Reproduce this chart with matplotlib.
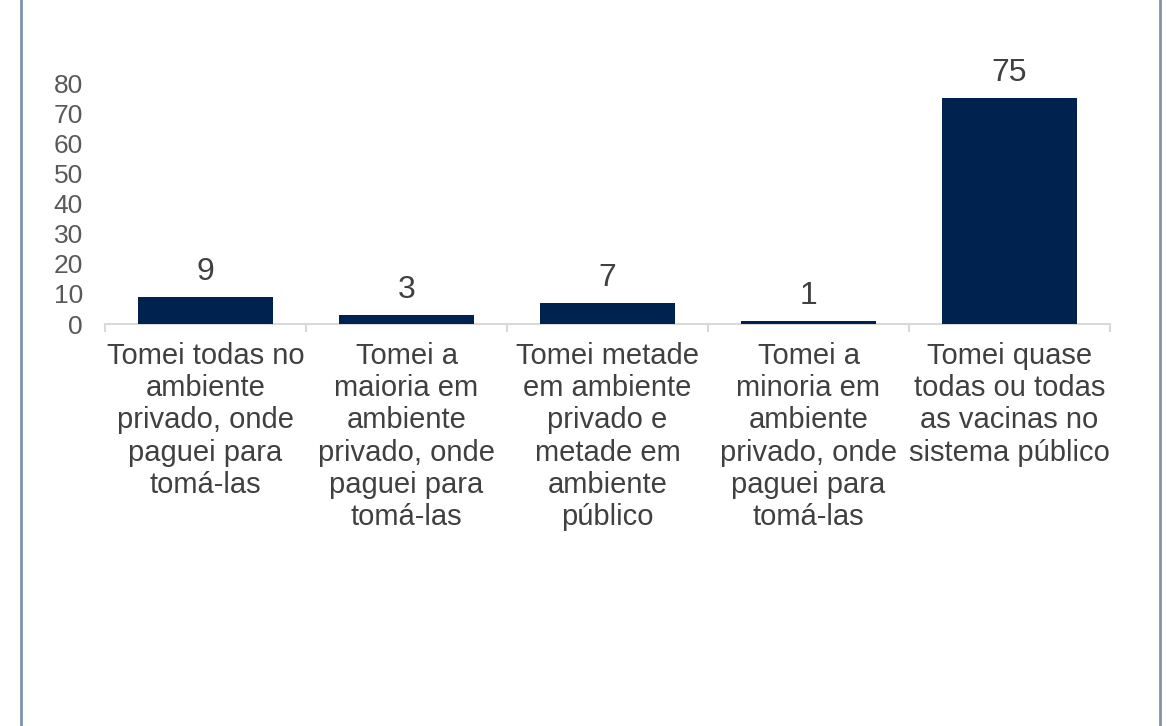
import matplotlib
matplotlib.use("Agg")
import matplotlib.pyplot as plt
from matplotlib.lines import Line2D

categories = [
    "Tomei todas no\nambiente\nprivado, onde\npaguei para\ntomá-las",
    "Tomei a\nmaioria em\nambiente\nprivado, onde\npaguei para\ntomá-las",
    "Tomei metade\nem ambiente\nprivado e\nmetade em\nambiente\npúblico",
    "Tomei a\nminoria em\nambiente\nprivado, onde\npaguei para\ntomá-las",
    "Tomei quase\ntodas ou todas\nas vacinas no\nsistema público",
]
values = [9, 3, 7, 1, 75]
yticks = [0, 10, 20, 30, 40, 50, 60, 70, 80]

plt.rcParams['font.family'] = ['Liberation Sans', 'DejaVu Sans']

fig = plt.figure(figsize=(11.66, 7.26), dpi=100)
ax = fig.add_axes([105/1166, 1-324/726, (1110-105)/1166, (324-83)/726])

x = list(range(len(values)))
bars = ax.bar(x, values, width=0.667, color='#00224f', zorder=3)
for xi, v in zip(x, values):
    ax.annotate(str(v), (xi, v), xytext=(0, 7), textcoords='offset points',
                ha='center', va='bottom', fontsize=23, color='#404040')

ax.set_xlim(-0.5, len(values)-0.5)
ax.set_ylim(0, 80)
ax.set_yticks(yticks)
ax.set_yticklabels([str(t) for t in yticks], fontsize=19, color='#595959')
ax.tick_params(axis='y', length=0, pad=16)

ax.set_xticks(x)
ax.set_xticklabels(categories, fontsize=21, color='#404040', linespacing=1.19, va='top')
ax.tick_params(axis='x', length=0, pad=13)

# boundary ticks
for b in [i - 0.5 for i in range(len(values)+1)]:
    ax.plot([b, b], [0, -2.3], color='#d9d9d9', lw=1.5, clip_on=False, zorder=2)

for s in ['top', 'right', 'left']:
    ax.spines[s].set_visible(False)
ax.spines['bottom'].set_color('#d9d9d9')
ax.spines['bottom'].set_linewidth(1.5)

fig.add_artist(Line2D([21/1166, 21/1166], [0, 1], color='#7f93ad', lw=2))
fig.add_artist(Line2D([1160/1166, 1160/1166], [0, 1], color='#7f93ad', lw=2))

fig.savefig('out.png', dpi=100)
